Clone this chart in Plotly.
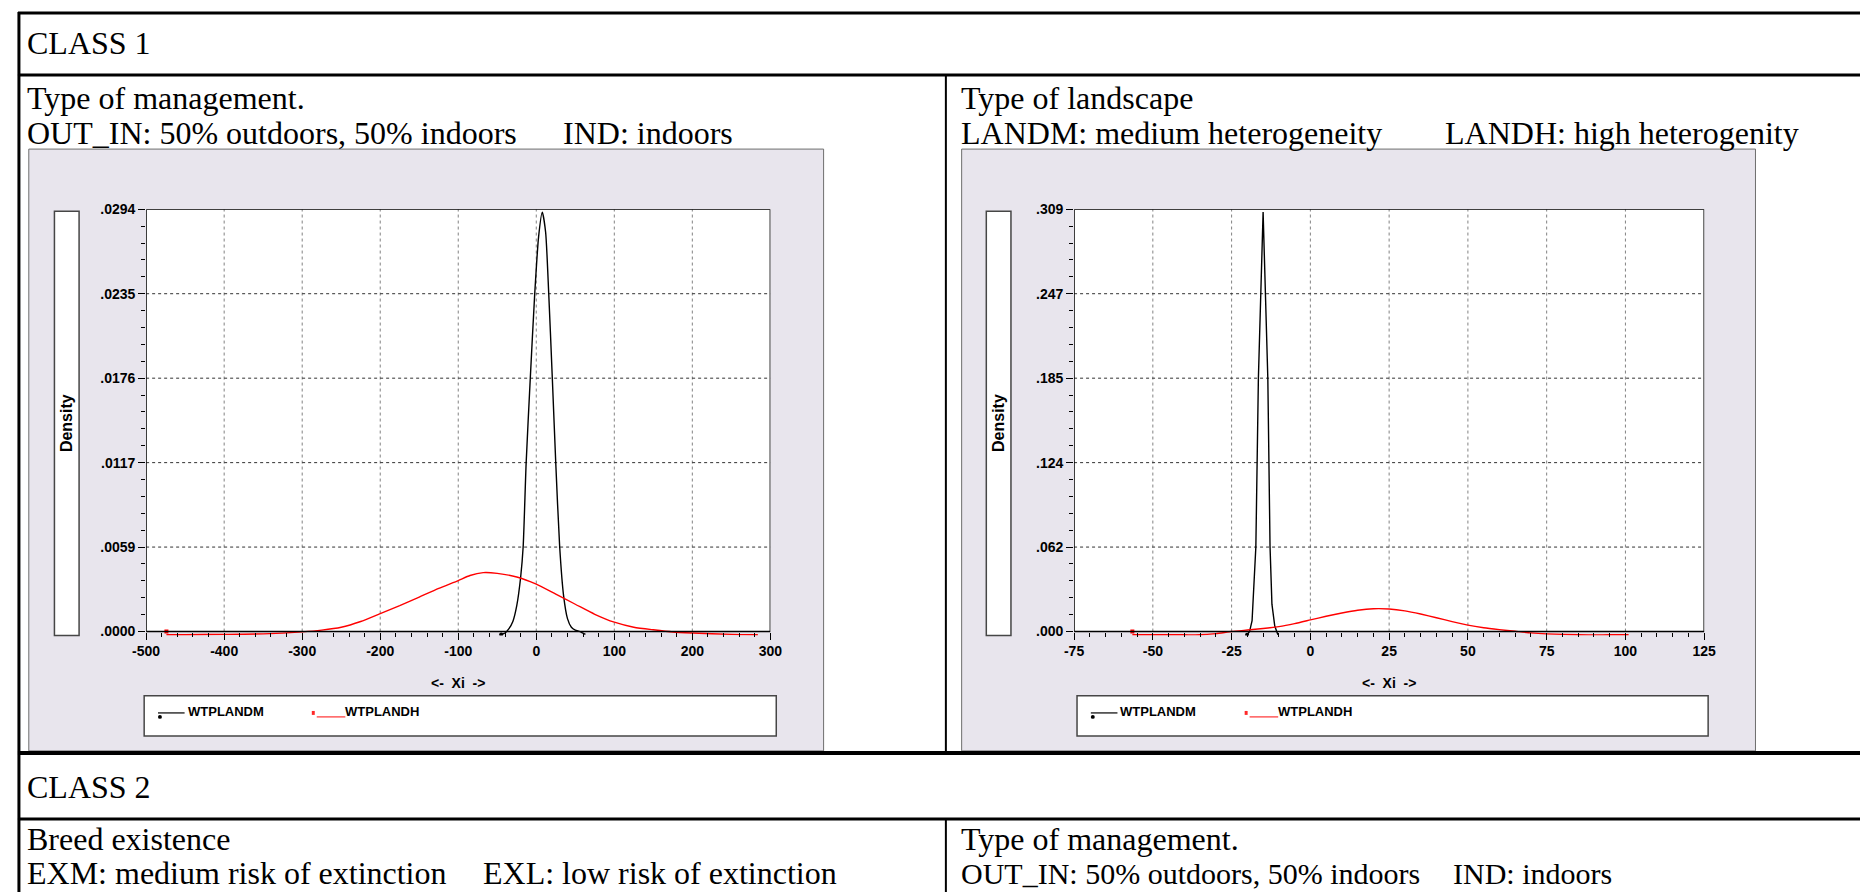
import plotly.graph_objects as go

# ---------------------------------------------------------------------------
# Density estimates of WTP for the landscape attributes
# ---------------------------------------------------------------------------
SERIES = ["WTPLANDM", "WTPLANDH"]
SERIES_COLORS = ["black", "rgb(255,0,0)"]

# Panel A - class 1, type of management
a_m_x = [-45, -40, -35, -30, -25, -20, -16.8, -13, -7.7, -2, 3, 7.7, 12, 16,
         20.6, 25, 30, 35, 40, 45, 50, 56, 63]
a_m_y = [-0.0002, -0.0001, 0.0002, 0.0007, 0.0018, 0.0038, 0.0059, 0.0117,
         0.0176, 0.0235, 0.0275, 0.0292, 0.0278, 0.0235, 0.0176, 0.0117,
         0.0059, 0.0025, 0.0009, 0.0003, 0.0001, 0.0, -0.0002]
a_h_x = [-474, -450, -400, -350, -300, -275, -250, -225, -200, -175, -150,
         -125, -100, -85, -68, -50, -25, 0, 25, 50, 75, 100, 125, 150, 175,
         200, 250, 284]
a_h_y = [-0.00022, -0.00022, -0.0002, -0.00016, -0.00002, 0.0001, 0.0003,
         0.0007, 0.00125, 0.0018, 0.0024, 0.003, 0.00355, 0.0039, 0.0041,
         0.00405, 0.0038, 0.0033, 0.0026, 0.0019, 0.0012, 0.00065, 0.0003,
         0.00012, -0.00003, -0.0001, -0.0002, -0.00022]

# Panel B - class 1, type of landscape
b_m_x = [-20.1, -19.3, -18.5, -17.9, -17.3, -16.5, -15.0, -13.5, -12.8,
         -12.2, -11.3, -10.3]
b_m_y = [-0.0024, 0.0, 0.008, 0.031, 0.062, 0.185, 0.307, 0.185, 0.062,
         0.02, 0.004, -0.0024]
b_h_x = [-56.5, -50, -40, -35, -30, -25, -20, -15, -10, -5, 0, 5, 10, 15,
         20, 25, 30, 35, 40, 45, 50, 55, 60, 65, 70, 75, 85, 95, 101]
b_h_y = [-0.0024, -0.0024, -0.0024, -0.0024, -0.0015, 0.0, 0.0011, 0.0022,
         0.0036, 0.0058, 0.0085, 0.0112, 0.0136, 0.0156, 0.0167, 0.0165,
         0.0151, 0.0128, 0.0101, 0.0073, 0.0047, 0.0028, 0.0014, 0.0002,
         -0.001, -0.0017, -0.0024, -0.0024, -0.0024]

# Axis ticks
a_xticks = [-500, -400, -300, -200, -100, 0, 100, 200, 300]
a_yticks = [0, 0.00588, 0.01176, 0.01764, 0.02352, 0.0294]
a_ylabels = [".0000", ".0059", ".0117", ".0176", ".0235", ".0294"]
b_xticks = [-75, -50, -25, 0, 25, 50, 75, 100, 125]
b_yticks = [0, 0.0618, 0.1236, 0.1854, 0.2472, 0.309]
b_ylabels = [".000", ".062", ".124", ".185", ".247", ".309"]

# ---------------------------------------------------------------------------
W, H = 1872, 896
SERIF = "Liberation Serif, Times New Roman, serif"
NARROW = "Liberation Sans Narrow, Arial Narrow, Liberation Sans, Arial, sans-serif"
PANEL_BG = "rgb(232,229,237)"
TXT = 32


def fx(p):
    return p / W


def fy(p):
    return 1 - p / H


shapes = []
annotations = []


def rect(x0, y0, x1, y1, fill, line_color=None, lw=0, layer="below"):
    shapes.append(dict(type="rect", xref="paper", yref="paper",
                       x0=fx(x0), x1=fx(x1), y0=fy(y1), y1=fy(y0),
                       fillcolor=fill, layer=layer,
                       line=dict(color=line_color or "rgba(0,0,0,0)", width=lw)))


def seg(x0, y0, x1, y1, color="black", w=1, layer="above"):
    shapes.append(dict(type="line", xref="paper", yref="paper",
                       x0=fx(x0), x1=fx(x1), y0=fy(y0), y1=fy(y1),
                       line=dict(color=color, width=w), layer=layer))


def text(x, y, s, size=TXT, xanchor="left", family=SERIF, weight="normal",
         angle=0):
    annotations.append(dict(xref="paper", yref="paper", x=fx(x), y=fy(y),
                            text=s, showarrow=False, xanchor=xanchor,
                            yanchor="middle", textangle=angle,
                            borderpad=0, borderwidth=0,
                            font=dict(family=family, size=size, color="black",
                                      weight=weight)))


# ---- table grid ----
seg(4, 5, W, 5, w=3)
seg(5, 4, 5, H, w=3)
seg(4, 68, W, 68, w=3)
seg(4, 755, W, 755, w=4)
seg(4, 822, W, 822, w=3)
seg(945, 68, 945, 755, w=2)
seg(945, 822, 945, H, w=2)

# ---- table text ----
text(13, 35, "CLASS 1")
text(13, 91, "Type of management.")
text(13, 127, "OUT_IN: 50% outdoors, 50% indoors")
text(557, 127, "IND: indoors")
text(960, 91, "Type of landscape")
text(960, 127, "LANDM: medium heterogeneity")
text(1451, 127, "LANDH: high heterogenity")
text(13, 790, "CLASS 2")
text(13, 842, "Breed existence")
text(13, 877, "EXM: medium risk of extinction")
text(476, 877, "EXL: low risk of extinction")
text(960, 842, "Type of management.")
text(960, 877, "OUT_IN: 50% outdoors, 50% indoors", size=30)
text(1459, 877, "IND: indoors", size=30)

# ---- chart panels ----
panels = [
    dict(box=(15, 143, 821, 753), frame=(134, 204, 767, 632),
         ybox=(41, 206, 66, 636), legend=(132, 697, 773, 738),
         xr=(-500, 300), xt=a_xticks, xminor=20, yt=a_yticks, yl=a_ylabels,
         series=[(a_m_x, a_m_y, "spline"), (a_h_x, a_h_y, "spline")],
         ax="", ),
    dict(box=(961, 143, 1766, 753), frame=(1075, 204, 1714, 632),
         ybox=(986, 206, 1011, 636), legend=(1078, 697, 1718, 738),
         xr=(-75, 125), xt=b_xticks, xminor=5, yt=b_yticks, yl=b_ylabels,
         series=[(b_m_x, b_m_y, "linear"), (b_h_x, b_h_y, "spline")],
         ax="2"),
]

fig = go.Figure()
PAD_PX = 4
layout_axes = {}

for p in panels:
    bx0, by0, bx1, by1 = p["box"]
    fx0, fy0, fx1, fy1 = p["frame"]
    ytop = p["yt"][-1]
    ylo = -PAD_PX / (fy1 - fy0) * ytop
    xa = "x" + p["ax"]
    ya = "y" + p["ax"]

    # gray panel, white plotting area, y-title box
    rect(bx0, by0, bx1, by1, PANEL_BG, "rgb(110,110,110)", 1)
    rect(fx0, fy0, fx1, fy1, "white")
    qx0, qy0, qx1, qy1 = p["ybox"]
    rect(qx0, qy0, qx1, qy1, "white", "rgb(70,70,70)", 1.5)
    text((qx0 + qx1) / 2, (qy0 + qy1) / 2, "Density", size=16, xanchor="center",
         family=NARROW, weight="bold", angle=-90)

    # dotted grid
    for t in p["xt"][1:-1]:
        shapes.append(dict(type="line", xref=xa, yref=ya, x0=t, x1=t, y0=0,
                           y1=ytop, layer="below",
                           line=dict(color="rgb(130,130,130)", width=1, dash="dot")))
    for v in p["yt"][1:-1]:
        shapes.append(dict(type="line", xref=xa, yref=ya, x0=p["xr"][0],
                           x1=p["xr"][1], y0=v, y1=v, layer="below",
                           line=dict(color="rgb(50,50,50)", width=1, dash="dot")))
    # frame
    shapes.append(dict(type="rect", xref=xa, yref=ya, x0=p["xr"][0],
                       x1=p["xr"][1], y0=0, y1=ytop, layer="above",
                       line=dict(color="black", width=1.5)))

    # curves
    for (xs, ys, shp), name, col in zip(p["series"], SERIES, SERIES_COLORS):
        fig.add_trace(go.Scatter(x=xs, y=ys, mode="lines", name=name,
                                 line=dict(color=col, width=1.4, shape=shp,
                                           smoothing=0.6),
                                 xaxis=xa, yaxis=ya, showlegend=False,
                                 hoverinfo="skip"))
    fig.add_trace(go.Scatter(x=[p["series"][0][0][0]], y=[p["series"][0][1][0]],
                             mode="markers", xaxis=xa, yaxis=ya,
                             marker=dict(color="black", size=4, symbol="circle"),
                             showlegend=False, hoverinfo="skip"))
    fig.add_trace(go.Scatter(x=[p["series"][1][0][0]], y=[0],
                             mode="markers", xaxis=xa, yaxis=ya,
                             marker=dict(color="rgb(255,0,0)", size=4,
                                         symbol="square"),
                             showlegend=False, hoverinfo="skip"))

    # axes
    tickfont = dict(family=NARROW, size=14, color="black", weight="bold")
    layout_axes["xaxis" + p["ax"]] = dict(
        domain=[fx(fx0), fx(fx1)], range=list(p["xr"]), anchor="free",
        position=fy(fy1), tickvals=p["xt"], ticktext=[str(t) for t in p["xt"]],
        ticks="outside", ticklen=7, tickwidth=1, tickcolor="black",
        minor=dict(ticks="outside", ticklen=4, dtick=p["xminor"],
                   tickcolor="black", showgrid=False),
        showgrid=False, zeroline=False, showline=False, tickfont=tickfont,
        fixedrange=True)
    layout_axes["yaxis" + p["ax"]] = dict(
        domain=[fy(fy1 + PAD_PX), fy(fy0)], range=[ylo, ytop], anchor=xa,
        tickvals=p["yt"], ticktext=p["yl"], ticks="outside", ticklen=7,
        tickwidth=1, tickcolor="black",
        minor=dict(ticks="outside", ticklen=4, dtick=ytop / 25, tick0=0,
                   tickcolor="black", showgrid=False),
        showgrid=False, zeroline=False, showline=False, tickfont=tickfont,
        fixedrange=True)

    # axis title
    text((fx0 + fx1) / 2, 684, "&lt;-  Xi  -&gt;", size=14, xanchor="center",
         family=NARROW, weight="bold")

    # legend box
    lx0, ly0, lx1, ly1 = p["legend"]
    ly = (ly0 + ly1) / 2 - 3
    rect(lx0, ly0, lx1, ly1, "white", "rgb(70,70,70)", 1.5)
    seg(lx0 + 14, ly, lx0 + 41, ly, color="black", w=1.2)
    shapes.append(dict(type="circle", xref="paper", yref="paper",
                       x0=fx(lx0 + 14), x1=fx(lx0 + 18), y0=fy(ly + 6),
                       y1=fy(ly + 2), fillcolor="black", line=dict(width=0)))
    text(lx0 + 44, ly - 1, SERIES[0], size=13, family=NARROW, weight="bold")
    rect(lx0 + 170, ly - 2, lx0 + 173, ly + 2, "rgb(255,40,40)")
    seg(lx0 + 175, ly + 4, lx0 + 204, ly + 4, color="rgb(255,90,90)", w=1.5)
    text(lx0 + 204, ly - 1, SERIES[1], size=13, family=NARROW, weight="bold")

fig.update_layout(
    width=W, height=H, margin=dict(l=0, r=0, t=0, b=0),
    paper_bgcolor="white", plot_bgcolor="rgba(0,0,0,0)",
    shapes=shapes, annotations=annotations, showlegend=False,
    **layout_axes)

fig.write_html("out.html")
